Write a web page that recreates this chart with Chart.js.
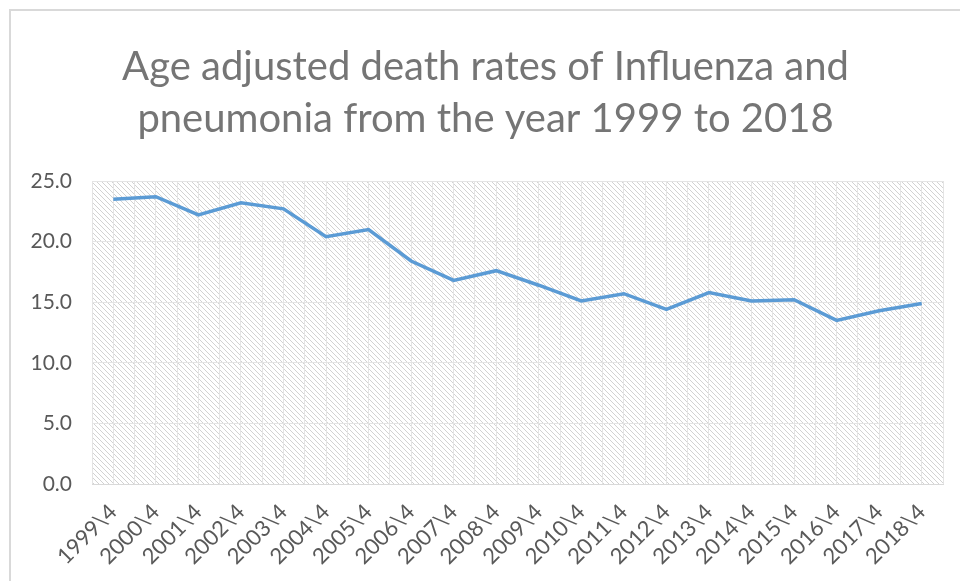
<!DOCTYPE html>
<html>
<head>
<meta charset="utf-8">
<script src="https://cdn.jsdelivr.net/npm/chart.js@4"></script>
<style>
html,body{margin:0;padding:0;background:#fff;}
#wrap{width:960px;height:581px;position:relative;}
</style>
</head>
<body>
<div id="wrap"><canvas id="c" width="960" height="581"></canvas></div>
<script>
const titleLines = ["Age adjusted death rates of Influenza and", "pneumonia from the year 1999 to 2018"];
const categories = ["1999\\4","2000\\4","2001\\4","2002\\4","2003\\4","2004\\4","2005\\4","2006\\4","2007\\4","2008\\4","2009\\4","2010\\4","2011\\4","2012\\4","2013\\4","2014\\4","2015\\4","2016\\4","2017\\4","2018\\4"];
const deathRates = [23.5,23.7,22.2,23.2,22.7,20.4,21.0,18.4,16.8,17.6,16.4,15.1,15.7,14.4,15.8,15.1,15.2,13.5,14.3,14.9];
const yMin = 0, yMax = 25, yStep = 5;

function makePattern(ctx){
  const t = document.createElement('canvas');
  t.width = 5; t.height = 5;
  const g = t.getContext('2d');
  g.fillStyle = '#ffffff'; g.fillRect(0,0,5,5);
  g.fillStyle = '#d2d2d2';
  for(let i=0;i<5;i++){ g.fillRect(i,i,1,1); }
  return ctx.createPattern(t,'repeat');
}

const bgPlugin = {
  id:'bg',
  beforeDraw(chart){
    const ctx = chart.ctx, a = chart.chartArea;
    ctx.save();
    ctx.fillStyle = '#ffffff';
    ctx.fillRect(0,0,chart.width,chart.height);
    ctx.fillStyle = makePattern(ctx);
    ctx.fillRect(a.left,a.top,a.right-a.left,a.bottom-a.top);
    ctx.strokeStyle = '#d9d9d9';
    ctx.lineWidth = 2;
    ctx.strokeRect(10,10,chart.width+20,chart.height+20);
    ctx.restore();
  }
};

new Chart(document.getElementById('c'), {
  type:'line',
  data:{
    labels:categories,
    datasets:[{
      data:deathRates,
      borderColor:'#5b9bd5',
      borderWidth:3.5,
      pointRadius:0,
      tension:0,
      fill:false,
      xAxisID:'x',
      yAxisID:'y'
    }]
  },
  options:{
    responsive:false,
    animation:false,
    layout:{padding:{left:28,right:17,top:0,bottom:0}},
    plugins:{
      legend:{display:false},
      tooltip:{enabled:false},
      title:{
        display:true,
        text:titleLines,
        color:'#757575',
        font:{family:'Lato',size:40,weight:'normal',lineHeight:1.3},
        padding:{top:41,bottom:36}
      }
    },
    scales:{
      x:{
        type:'category',
        offset:true,
        grid:{display:false},
        border:{display:true,color:'#d9d9d9',width:1},
        ticks:{color:'#595959',font:{family:'Lato',size:22},maxRotation:45,minRotation:45,autoSkip:false,padding:7},
        afterFit(s){ s.height = 97; }
      },
      xg:{
        type:'linear',
        position:'bottom',
        min:0,max:40,
        ticks:{display:false,stepSize:1},
        grid:{color:'#e4e4e4',lineWidth:1,drawTicks:false},
        border:{display:false},
        afterFit(s){ s.height = 0; }
      },
      y:{
        min:yMin,max:yMax,
        ticks:{stepSize:yStep,color:'#595959',font:{family:'Lato',size:21},padding:20,callback:v=>v.toFixed(1)},
        grid:{color:'#e4e4e4',lineWidth:1,drawTicks:false},
        border:{display:false},
        afterFit(s){ s.width = 64; }
      }
    }
  },
  plugins:[bgPlugin]
});
</script>
</body>
</html>
